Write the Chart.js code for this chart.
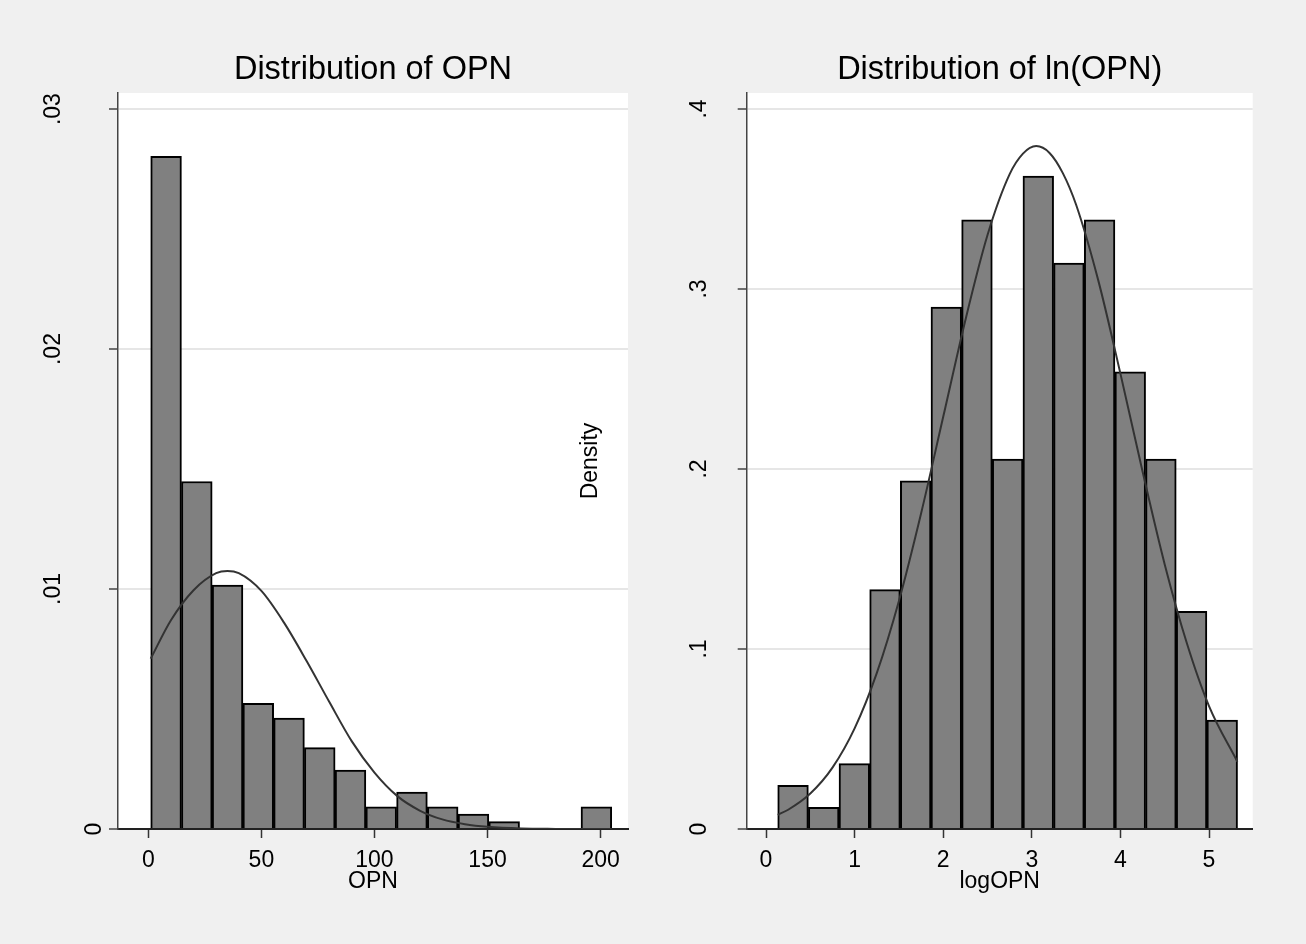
<!DOCTYPE html>
<html>
<head>
<meta charset="utf-8">
<script src="https://cdn.jsdelivr.net/npm/chart.js@4.4.0/dist/chart.umd.min.js"></script>
<style>
  html, body { margin: 0; padding: 0; background: #f0f0f0; }
  #wrap { position: relative; width: 1306px; height: 944px; overflow: hidden; }
  canvas { position: absolute; top: 0; }
  #opn { left: 0; }
  #logopn { left: 653px; }
</style>
</head>
<body>
<div id="wrap">
  <canvas id="opn" width="653" height="944"></canvas>
  <canvas id="logopn" width="653" height="944"></canvas>
</div>
<script>
const FONT = "'Liberation Sans', Arial, Helvetica, sans-serif";

// left panel: OPN histogram (bin midpoints, density) + normal curve
const opnBins = [7.86, 21.45, 35.04, 48.63, 62.22, 75.81, 89.40, 102.99, 116.58, 130.17, 143.76, 157.35, 170.94, 184.53, 198.12];
const opnDensity = [0.02803, 0.01448, 0.01016, 0.00524, 0.00462, 0.00339, 0.00246, 0.00092, 0.00154, 0.00092, 0.00062, 0.00031, 0, 0, 0.00092];
const opnCurveX = [1.06, 10, 20, 30, 35, 40, 50, 60, 70, 80, 90, 100, 110, 120, 130, 140, 150, 165, 180, 204.8];
const opnCurveY = [0.0071, 0.0087, 0.00995, 0.01066, 0.01075, 0.01066, 0.00992, 0.0086, 0.0070, 0.0053, 0.00365, 0.00235, 0.00138, 0.00077, 0.0004, 0.0002, 0.00009, 0.00002, 0.000005, 0];
const opnXTicks = [0, 50, 100, 150, 200];
const opnYTicks = [0, 0.01, 0.02, 0.03];
const opnYLabels = ['0', '.01', '.02', '.03'];

// right panel: ln(OPN)
const logBins = [0.305, 0.651, 0.997, 1.343, 1.689, 2.035, 2.381, 2.727, 3.073, 3.419, 3.765, 4.111, 4.457, 4.803, 5.149];
const logDensity = [0.0242, 0.0121, 0.0363, 0.133, 0.1935, 0.290, 0.3385, 0.2055, 0.3627, 0.3144, 0.3385, 0.254, 0.2055, 0.121, 0.0605];
const logCurveX = [0.132, 0.25, 0.5, 0.75, 1.0, 1.25, 1.5, 1.75, 2.0, 2.25, 2.5, 2.75, 2.9, 3.05, 3.2, 3.35, 3.5, 3.75, 4.0, 4.25, 4.5, 4.75, 5.0, 5.32];
const logCurveY = [0.0079, 0.0107, 0.0197, 0.0341, 0.0559, 0.0866, 0.1267, 0.1753, 0.229, 0.2827, 0.330, 0.3638, 0.3752, 0.3794, 0.3756, 0.3644, 0.3468, 0.3048, 0.253, 0.1986, 0.147, 0.1032, 0.0683, 0.0374];
const logXTicks = [0, 1, 2, 3, 4, 5];
const logYTicks = [0, 0.1, 0.2, 0.3, 0.4];
const logYLabels = ['0', '.1', '.2', '.3', '.4'];

// white plot region + rotated y labels (Stata style)
const stataText = {
  id: 'stataText',
  beforeDraw(chart) {
    const { ctx, chartArea: a } = chart;
    ctx.save();
    ctx.fillStyle = '#ffffff';
    ctx.fillRect(a.left, a.top, a.right - a.left, a.bottom - a.top);
    ctx.restore();
  },
  afterDraw(chart, args, opts) {
    const ctx = chart.ctx;
    const y = chart.scales.y;
    ctx.save();
    ctx.font = '23px ' + FONT;
    ctx.fillStyle = '#000';
    ctx.textAlign = 'center';
    ctx.textBaseline = 'alphabetic';
    opts.ticks.forEach((v, i) => {
      ctx.save();
      ctx.translate(opts.labelX[i], y.getPixelForValue(v));
      ctx.rotate(-Math.PI / 2);
      ctx.fillText(opts.labels[i], 0, 0);
      ctx.restore();
    });
    if (opts.sideTitle) {
      ctx.save();
      ctx.translate(opts.sideTitle.x, opts.sideTitle.y);
      ctx.rotate(-Math.PI / 2);
      ctx.fillText(opts.sideTitle.text, 0, 0);
      ctx.restore();
    }
    ctx.restore();
  }
};

function histChart(id, p) {
  const bars = p.bins.map((x, i) => ({ x: x, y: p.density[i] }));
  const curve = p.curveX.map((x, i) => ({ x: x, y: p.curveY[i] }));
  return new Chart(document.getElementById(id), {
    type: 'bar',
    data: {
      datasets: [
        {
          type: 'line',
          data: curve,
          borderColor: '#333333',
          borderWidth: 2,
          pointRadius: 0,
          cubicInterpolationMode: 'monotone',
          fill: false
        },
        {
          data: bars,
          backgroundColor: '#808080',
          borderColor: '#000000',
          borderWidth: 2,
          borderSkipped: 'bottom',
          barPercentage: 1.0,
          categoryPercentage: 1.0
        }
      ]
    },
    options: {
      responsive: false,
      animation: false,
      layout: { padding: { left: 0, right: p.padRight, top: 0, bottom: 0 } },
      plugins: {
        legend: { display: false },
        tooltip: { enabled: false },
        title: {
          display: true,
          text: p.title,
          fullSize: false,
          color: '#000',
          font: { family: FONT, size: 32.5, weight: 'normal' },
          padding: { top: 50.3, bottom: 3.7 }
        },
        stataText: { ticks: p.yTicks, labels: p.yLabels, labelX: p.labelX, sideTitle: p.sideTitle }
      },
      scales: {
        x: {
          type: 'linear',
          offset: false,
          min: p.xMin,
          max: p.xMax,
          afterFit(s) { s.height = 115; },
          afterBuildTicks(s) { s.ticks = p.xTicks.map(v => ({ value: v })); },
          border: { display: true, color: '#222', width: 2 },
          grid: { offset: false, drawOnChartArea: false, drawTicks: true, tickLength: 9, tickColor: '#333', tickWidth: 1.5 },
          ticks: {
            autoSkip: false, maxRotation: 0, padding: 8.5, color: '#000',
            font: { family: FONT, size: 23 },
            callback: v => String(v)
          },
          title: {
            display: true, text: p.xTitle, color: '#000',
            font: { family: FONT, size: 23 },
            padding: { top: 0, bottom: 48.7 }
          }
        },
        y: {
          type: 'linear',
          min: 0,
          max: p.yMax,
          afterFit(s) { s.width = p.yWidth; },
          afterBuildTicks(s) { s.ticks = p.yTicks.map(v => ({ value: v })); },
          border: { display: true, color: '#444', width: 1.5 },
          grid: {
            color: c => (c.tick && c.tick.value === 0 ? 'rgba(0,0,0,0)' : '#e6e6e6'),
            lineWidth: 2,
            drawTicks: true, tickLength: 9, tickColor: '#444', tickWidth: 1.5
          },
          ticks: { display: false }
        }
      }
    },
    plugins: [stataText]
  });
}

histChart('opn', {
  bins: opnBins, density: opnDensity, curveX: opnCurveX, curveY: opnCurveY,
  xTicks: opnXTicks, yTicks: opnYTicks, yLabels: opnYLabels,
  xMin: -13.4, xMax: 212.1, yMax: 0.03067,
  title: 'Distribution of OPN', xTitle: 'OPN',
  padRight: 25, yWidth: 118, labelX: [101, 60, 60, 60],
  sideTitle: { text: 'Density', x: 597, y: 461 }
});

histChart('logopn', {
  bins: logBins, density: logDensity, curveX: logCurveX, curveY: logCurveY,
  xTicks: logXTicks, yTicks: logYTicks, yLabels: logYLabels,
  xMin: -0.218, xMax: 5.493, yMax: 0.4089,
  title: 'Distribution of ln(OPN)', xTitle: 'logOPN',
  padRight: 53.3, yWidth: 93.7, labelX: [53, 53, 53, 53, 53],
  sideTitle: null
});
</script>
</body>
</html>
